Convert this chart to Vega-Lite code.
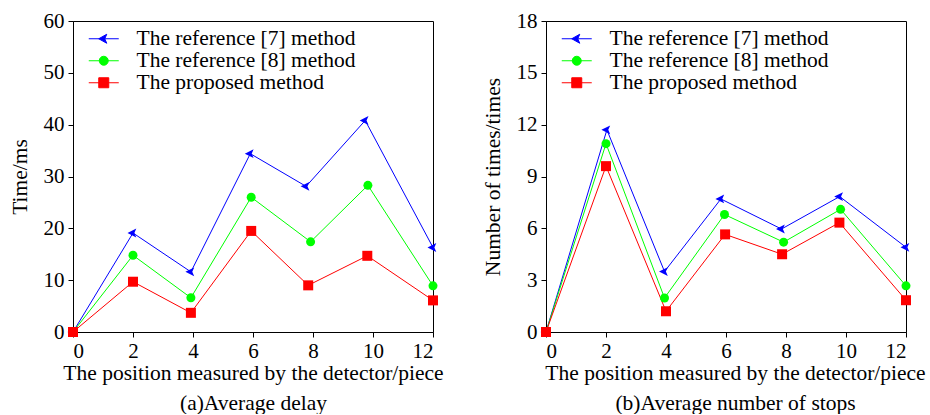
{
  "$schema": "https://vega.github.io/schema/vega-lite/v6.json",
  "padding": {"left": 8, "top": 9, "right": 0, "bottom": 0},
  "spacing": 37,
  "config": {
    "font": "Liberation Serif",
    "view": {"stroke": "black", "strokeWidth": 1},
    "axis": {"labelFont": "Liberation Serif", "labelFontSize": 21, "labelColor": "black", "titleFont": "Liberation Serif", "titleFontSize": 21.5, "titleFontWeight": "normal", "titleColor": "black", "domainColor": "black", "tickColor": "black", "tickSize": 5, "grid": false},
    "legend": {"labelFont": "Liberation Serif", "labelFontSize": 21.5, "labelColor": "black", "labelLimit": 400, "padding": 0, "rowPadding": -5, "labelOffset": 22, "symbolSize": 400, "symbolStrokeWidth": 1, "symbolOpacity": 1}
  },
  "resolve": {"scale": {"shape": "independent", "fill": "independent", "stroke": "independent"}, "legend": {"shape": "independent", "fill": "independent", "stroke": "independent"}},
  "hconcat": [
    {
      "width": 360, "height": 311,
      "data": {"values": [
        {"x": 0, "v": 0, "m": "The reference [7] method"},
        {"x": 2, "v": 19.1, "m": "The reference [7] method"},
        {"x": 3.93, "v": 11.6, "m": "The reference [7] method"},
        {"x": 5.91, "v": 34.4, "m": "The reference [7] method"},
        {"x": 7.77, "v": 28.1, "m": "The reference [7] method"},
        {"x": 9.74, "v": 40.8, "m": "The reference [7] method"},
        {"x": 12, "v": 16.3, "m": "The reference [7] method"},
        {"x": 0, "v": 0, "m": "The reference [8] method"},
        {"x": 2, "v": 14.8, "m": "The reference [8] method"},
        {"x": 3.93, "v": 6.6, "m": "The reference [8] method"},
        {"x": 5.94, "v": 26.0, "m": "The reference [8] method"},
        {"x": 7.92, "v": 17.4, "m": "The reference [8] method"},
        {"x": 9.83, "v": 28.3, "m": "The reference [8] method"},
        {"x": 12, "v": 8.9, "m": "The reference [8] method"},
        {"x": 0, "v": 0, "m": "The proposed method"},
        {"x": 2, "v": 9.7, "m": "The proposed method"},
        {"x": 3.93, "v": 3.7, "m": "The proposed method"},
        {"x": 5.94, "v": 19.5, "m": "The proposed method"},
        {"x": 7.84, "v": 9.0, "m": "The proposed method"},
        {"x": 9.81, "v": 14.7, "m": "The proposed method"},
        {"x": 12, "v": 6.1, "m": "The proposed method"}
      ]},
      "encoding": {
        "x": {"field": "x", "type": "quantitative", "scale": {"domain": [0, 12], "nice": false}, "axis": {"values": [0, 2, 4, 6, 8, 10, 12], "title": ["The position measured by the detector/piece", "(a)Average delay"], "titleLineHeight": 30, "labelPadding": 3, "titlePadding": 1}},
        "y": {"field": "v", "type": "quantitative", "scale": {"domain": [0, 60], "nice": false}, "axis": {"values": [0, 10, 20, 30, 40, 50, 60], "title": "Time/ms", "titlePadding": 12, "labelPadding": 4}}
      },
      "layer": [
        {"transform": [{"filter": "datum.m === 'The reference [7] method'"}], "mark": {"type": "line", "strokeWidth": 1, "color": "#0000ff"}},
        {"transform": [{"filter": "datum.m === 'The reference [8] method'"}], "mark": {"type": "line", "strokeWidth": 1, "color": "#00ff00"}},
        {"transform": [{"filter": "datum.m === 'The proposed method'"}], "mark": {"type": "line", "strokeWidth": 1, "color": "#ff0000"}},
        {"transform": [{"filter": "datum.m === 'The reference [7] method'"}], "mark": {"type": "point", "filled": true, "size": 121, "opacity": 1, "color": "#0000ff", "shape": "M-1,0L0.6,-0.8L0.25,0L0.6,0.8Z"}},
        {"transform": [{"filter": "datum.m === 'The reference [8] method'"}], "mark": {"type": "point", "filled": true, "size": 81, "opacity": 1, "color": "#00ff00", "shape": "circle"}},
        {"transform": [{"filter": "datum.m === 'The proposed method'"}], "mark": {"type": "point", "filled": true, "size": 100, "opacity": 1, "color": "#ff0000", "shape": "square"}},
        {"transform": [{"filter": "datum.x < -100"}], "mark": {"type": "point", "size": 400, "opacity": 1, "strokeWidth": 1},
          "encoding": {
            "shape": {"field": "m", "type": "nominal", "scale": {"domain": ["The reference [7] method", "The reference [8] method", "The proposed method"], "range": ["M-1.5,0H1.5M-0.5,0L0.3,-0.45L0.1,0L0.3,0.45Z", "M-1.5,0H1.5M-0.45,0A0.45,0.45,0,1,1,0.45,0A0.45,0.45,0,1,1,-0.45,0Z", "M-1.5,0H1.5M-0.5,-0.5H0.5V0.5H-0.5Z"]},
              "legend": {"title": null, "orient": "none", "legendX": 20, "legendY": 7}},
            "fill": {"field": "m", "type": "nominal", "scale": {"domain": ["The reference [7] method", "The reference [8] method", "The proposed method"], "range": ["#0000ff", "#00ff00", "#ff0000"]},
              "legend": {"title": null, "orient": "none", "legendX": 20, "legendY": 7}},
            "stroke": {"field": "m", "type": "nominal", "scale": {"domain": ["The reference [7] method", "The reference [8] method", "The proposed method"], "range": ["#0000ff", "#00ff00", "#ff0000"]},
              "legend": {"title": null, "orient": "none", "legendX": 20, "legendY": 7}}
          }}
      ]
    },
    {
      "width": 360, "height": 311,
      "data": {"values": [
        {"x": 0, "v": 0, "m": "The reference [7] method"},
        {"x": 2.03, "v": 11.7, "m": "The reference [7] method"},
        {"x": 3.95, "v": 3.5, "m": "The reference [7] method"},
        {"x": 5.83, "v": 7.7, "m": "The reference [7] method"},
        {"x": 7.85, "v": 5.96, "m": "The reference [7] method"},
        {"x": 9.79, "v": 7.84, "m": "The reference [7] method"},
        {"x": 12, "v": 4.9, "m": "The reference [7] method"},
        {"x": 0, "v": 0, "m": "The reference [8] method"},
        {"x": 2, "v": 10.9, "m": "The reference [8] method"},
        {"x": 3.95, "v": 1.97, "m": "The reference [8] method"},
        {"x": 5.95, "v": 6.8, "m": "The reference [8] method"},
        {"x": 7.92, "v": 5.2, "m": "The reference [8] method"},
        {"x": 9.82, "v": 7.1, "m": "The reference [8] method"},
        {"x": 12, "v": 2.67, "m": "The reference [8] method"},
        {"x": 0, "v": 0, "m": "The proposed method"},
        {"x": 2, "v": 9.6, "m": "The proposed method"},
        {"x": 4.0, "v": 1.2, "m": "The proposed method"},
        {"x": 5.97, "v": 5.65, "m": "The proposed method"},
        {"x": 7.87, "v": 4.5, "m": "The proposed method"},
        {"x": 9.78, "v": 6.33, "m": "The proposed method"},
        {"x": 12, "v": 1.84, "m": "The proposed method"}
      ]},
      "encoding": {
        "x": {"field": "x", "type": "quantitative", "scale": {"domain": [0, 12], "nice": false}, "axis": {"values": [0, 2, 4, 6, 8, 10, 12], "title": ["The position measured by the detector/piece", "(b)Average number of stops"], "titleLineHeight": 30, "labelPadding": 3, "titlePadding": 1, "titleX": 189}},
        "y": {"field": "v", "type": "quantitative", "scale": {"domain": [0, 18], "nice": false}, "axis": {"values": [0, 3, 6, 9, 12, 15, 18], "title": "Number of times/times", "titlePadding": 12, "labelPadding": 4}}
      },
      "layer": [
        {"transform": [{"filter": "datum.m === 'The reference [7] method'"}], "mark": {"type": "line", "strokeWidth": 1, "color": "#0000ff"}},
        {"transform": [{"filter": "datum.m === 'The reference [8] method'"}], "mark": {"type": "line", "strokeWidth": 1, "color": "#00ff00"}},
        {"transform": [{"filter": "datum.m === 'The proposed method'"}], "mark": {"type": "line", "strokeWidth": 1, "color": "#ff0000"}},
        {"transform": [{"filter": "datum.m === 'The reference [7] method'"}], "mark": {"type": "point", "filled": true, "size": 121, "opacity": 1, "color": "#0000ff", "shape": "M-1,0L0.6,-0.8L0.25,0L0.6,0.8Z"}},
        {"transform": [{"filter": "datum.m === 'The reference [8] method'"}], "mark": {"type": "point", "filled": true, "size": 81, "opacity": 1, "color": "#00ff00", "shape": "circle"}},
        {"transform": [{"filter": "datum.m === 'The proposed method'"}], "mark": {"type": "point", "filled": true, "size": 100, "opacity": 1, "color": "#ff0000", "shape": "square"}},
        {"transform": [{"filter": "datum.x < -100"}], "mark": {"type": "point", "size": 400, "opacity": 1, "strokeWidth": 1},
          "encoding": {
            "shape": {"field": "m", "type": "nominal", "scale": {"domain": ["The reference [7] method", "The reference [8] method", "The proposed method"], "range": ["M-1.5,0H1.5M-0.5,0L0.3,-0.45L0.1,0L0.3,0.45Z", "M-1.5,0H1.5M-0.45,0A0.45,0.45,0,1,1,0.45,0A0.45,0.45,0,1,1,-0.45,0Z", "M-1.5,0H1.5M-0.5,-0.5H0.5V0.5H-0.5Z"]},
              "legend": {"title": null, "orient": "none", "legendX": 20, "legendY": 7}},
            "fill": {"field": "m", "type": "nominal", "scale": {"domain": ["The reference [7] method", "The reference [8] method", "The proposed method"], "range": ["#0000ff", "#00ff00", "#ff0000"]},
              "legend": {"title": null, "orient": "none", "legendX": 20, "legendY": 7}},
            "stroke": {"field": "m", "type": "nominal", "scale": {"domain": ["The reference [7] method", "The reference [8] method", "The proposed method"], "range": ["#0000ff", "#00ff00", "#ff0000"]},
              "legend": {"title": null, "orient": "none", "legendX": 20, "legendY": 7}}
          }}
      ]
    }
  ]
}
